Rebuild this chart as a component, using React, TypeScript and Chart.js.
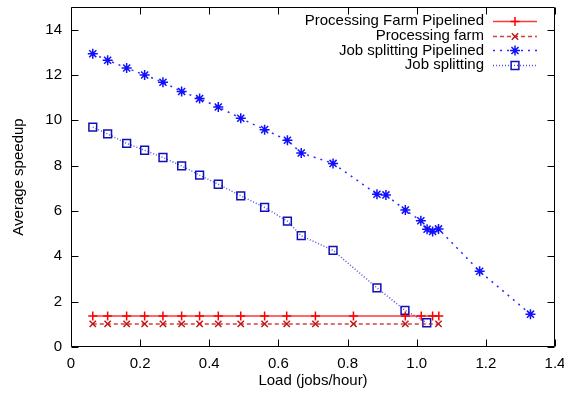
import React, { useEffect, useRef } from 'react';
import { Chart, registerables } from 'chart.js';

Chart.register(...registerables);

// ---- Data ----
const pfpX = [0.063, 0.106, 0.161, 0.213, 0.266, 0.320, 0.372, 0.426, 0.491, 0.560, 0.624, 0.707, 0.817, 0.967, 1.013, 1.046, 1.064];
const pfpY = [1.37, 1.37, 1.37, 1.37, 1.37, 1.37, 1.37, 1.37, 1.37, 1.37, 1.37, 1.37, 1.37, 1.37, 1.37, 1.37, 1.37];

const pfX = [0.063, 0.106, 0.161, 0.213, 0.266, 0.320, 0.372, 0.426, 0.491, 0.560, 0.624, 0.707, 0.817, 0.967, 1.063];
const pfY = [1.02, 1.02, 1.02, 1.02, 1.02, 1.02, 1.02, 1.02, 1.02, 1.02, 1.02, 1.02, 1.02, 1.02, 1.02];

const jspX = [0.063, 0.106, 0.161, 0.213, 0.266, 0.320, 0.372, 0.426, 0.491, 0.560, 0.626, 0.666, 0.758, 0.885, 0.911, 0.967, 1.012, 1.030, 1.046, 1.063, 1.182, 1.329];
const jspY = [12.94, 12.65, 12.31, 12.00, 11.68, 11.27, 10.96, 10.59, 10.09, 9.59, 9.12, 8.56, 8.10, 6.74, 6.71, 6.04, 5.57, 5.20, 5.10, 5.21, 3.34, 1.45];

const jsX = [0.063, 0.106, 0.161, 0.213, 0.266, 0.320, 0.372, 0.426, 0.491, 0.560, 0.626, 0.666, 0.758, 0.885, 0.966, 1.029];
const jsY = [9.70, 9.40, 8.98, 8.68, 8.36, 7.99, 7.58, 7.18, 6.67, 6.16, 5.55, 4.91, 4.26, 2.61, 1.62, 1.07];

const seriesLabels = ['Processing Farm Pipelined', 'Processing farm', 'Job splitting Pipelined', 'Job splitting'];
const xTitle = 'Load (jobs/hour)';
const yTitle = 'Average speedup';

const FONT = "'Liberation Sans', Arial, Helvetica, sans-serif";
const FS = 15;

const toPts = (xs: number[], ys: number[]) => xs.map((x, i) => ({ x, y: ys[i] }));

type Style = {
  line: string;
  point: string;
  dash: number[];
  pointStyle: string;
  radius: number;
};

const styles: Style[] = [
  { line: 'rgba(255,20,20,0.85)', point: '#ff0000', dash: [], pointStyle: 'cross', radius: 4.5 },
  { line: 'rgba(200,30,30,0.85)', point: '#c01818', dash: [4, 3], pointStyle: 'crossRot', radius: 4.5 },
  { line: 'rgba(20,20,255,0.9)', point: '#1010ff', dash: [2, 5], pointStyle: 'star', radius: 5 },
  { line: 'rgba(40,40,220,0.8)', point: '#1010b8', dash: [1, 2], pointStyle: 'rect', radius: 5.5 },
];

function drawMarker(ctx: CanvasRenderingContext2D, style: string, x: number, y: number, r: number) {
  ctx.beginPath();
  if (style === 'cross' || style === 'star') {
    ctx.moveTo(x - r, y); ctx.lineTo(x + r, y);
    ctx.moveTo(x, y - r); ctx.lineTo(x, y + r);
  }
  if (style === 'crossRot' || style === 'star') {
    const d = r * Math.SQRT1_2;
    ctx.moveTo(x - d, y - d); ctx.lineTo(x + d, y + d);
    ctx.moveTo(x - d, y + d); ctx.lineTo(x + d, y - d);
  }
  if (style === 'rect') {
    const s = r * Math.SQRT1_2;
    ctx.rect(x - s, y - s, 2 * s, 2 * s);
  }
  ctx.stroke();
}

const framePlugin = {
  id: 'gnuplotFrame',
  beforeDatasetsDraw(chart: any) {
    const { ctx, chartArea, scales } = chart;
    const { left, right, top, bottom } = chartArea;
    const L = Math.round(left) + 0.5, R = Math.round(right) - 0.5;
    const T = Math.round(top) + 0.5, B = Math.round(bottom) - 0.5;
    ctx.save();
    ctx.strokeStyle = '#000';
    ctx.lineWidth = 1;
    ctx.setLineDash([]);
    ctx.beginPath();
    ctx.rect(L, T, R - L, B - T);
    const tl = 7;
    scales.x.ticks.forEach((t: any) => {
      const px = Math.round(scales.x.getPixelForValue(t.value)) + 0.5;
      ctx.moveTo(px, B); ctx.lineTo(px, B - tl);
      ctx.moveTo(px, T); ctx.lineTo(px, T + tl);
    });
    scales.y.ticks.forEach((t: any) => {
      const py = Math.round(scales.y.getPixelForValue(t.value)) + 0.5;
      ctx.moveTo(L, py); ctx.lineTo(L + tl, py);
      ctx.moveTo(R, py); ctx.lineTo(R - tl, py);
    });
    ctx.stroke();
    ctx.restore();
  },
  afterDraw(chart: any) {
    const { ctx, chartArea } = chart;
    const textRight = chartArea.right - 71;
    const lineStart = chartArea.right - 62;
    const lineEnd = chartArea.right - 18;
    const mid = (lineStart + lineEnd) / 2;
    ctx.save();
    ctx.font = `${FS}px ${FONT}`;
    ctx.textAlign = 'right';
    ctx.textBaseline = 'middle';
    seriesLabels.forEach((label, i) => {
      const y = chartArea.top + 14 + i * 14.7;
      ctx.fillStyle = '#000';
      ctx.fillText(label, textRight, y);
      const s = styles[i];
      ctx.strokeStyle = s.line;
      ctx.lineWidth = 1.5;
      ctx.setLineDash(s.dash);
      ctx.beginPath();
      ctx.moveTo(lineStart, Math.round(y) + 0.5);
      ctx.lineTo(lineEnd, Math.round(y) + 0.5);
      ctx.stroke();
      ctx.setLineDash([]);
      ctx.strokeStyle = s.point;
      drawMarker(ctx, s.pointStyle, mid, Math.round(y) + 0.5, s.radius);
    });
    ctx.restore();
  },
};

export default function App() {
  const ref = useRef<HTMLCanvasElement>(null);

  useEffect(() => {
    if (!ref.current) return;
    Chart.defaults.font.family = FONT;
    Chart.defaults.font.size = FS;
    Chart.defaults.color = '#000';

    const sets = [toPts(pfpX, pfpY), toPts(pfX, pfY), toPts(jspX, jspY), toPts(jsX, jsY)];
    const chart = new Chart(ref.current, {
      type: 'line',
      data: {
        datasets: sets.map((d, i) => ({
          label: seriesLabels[i],
          data: d,
          borderColor: styles[i].line,
          borderWidth: 1.5,
          borderDash: styles[i].dash,
          pointStyle: styles[i].pointStyle as any,
          pointRadius: styles[i].radius,
          pointBorderColor: styles[i].point,
          pointBackgroundColor: 'rgba(0,0,0,0)',
          pointBorderWidth: 1.5,
          tension: 0,
          fill: false,
        })),
      },
      options: {
        animation: false,
        responsive: false,
        devicePixelRatio: 1,
        layout: { padding: { left: 0, right: 9, top: 6, bottom: 0 } },
        plugins: {
          legend: { display: false },
          tooltip: { enabled: false },
        },
        scales: {
          x: {
            type: 'linear',
            min: 0,
            max: 1.4,
            ticks: { stepSize: 0.2, padding: 8, maxRotation: 0, autoSkip: false, font: { size: FS }, color: '#000' },
            grid: { display: false, drawTicks: false },
            border: { display: false },
            title: { display: true, text: xTitle, padding: { top: 0, bottom: 6 }, font: { size: FS }, color: '#000' },
            afterFit(scale: any) {
              scale.height = 49;
              scale.paddingLeft = 0;
              scale.paddingRight = 0;
            },
          },
          y: {
            type: 'linear',
            min: 0,
            max: 15,
            ticks: { stepSize: 2, includeBounds: false, padding: 9, font: { size: FS }, color: '#000' },
            grid: { display: false, drawTicks: false },
            border: { display: false },
            title: { display: true, text: yTitle, padding: { top: 10, bottom: 0 }, font: { size: FS }, color: '#000' },
            afterFit(scale: any) {
              scale.width = 71;
              scale.paddingTop = 0;
              scale.paddingBottom = 0;
            },
          },
        },
      },
      plugins: [framePlugin],
    });
    return () => chart.destroy();
  }, []);

  return (
    <div style={{ position: 'fixed', left: 0, top: 0, width: 564, height: 396, background: '#fff' }}>
      <canvas ref={ref} width={564} height={396} style={{ display: 'block' }} />
    </div>
  );
}
